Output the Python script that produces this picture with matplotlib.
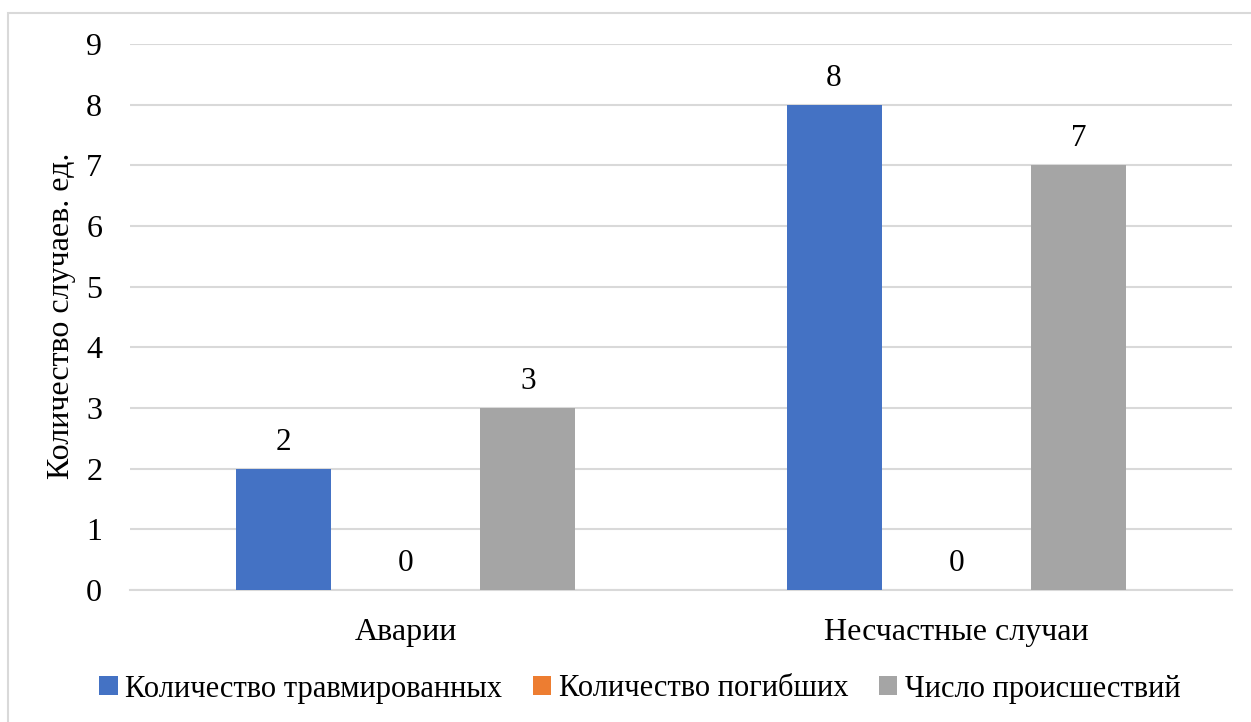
import matplotlib
matplotlib.use("Agg")
import matplotlib.pyplot as plt
from matplotlib.patches import Rectangle
import numpy as np

plt.rcParams['font.family'] = ['Liberation Serif', 'DejaVu Serif']

categories = ["Аварии", "Несчастные случаи"]
series_names = ["Количество травмированных", "Количество погибших", "Число происшествий"]
injured = [2, 8]
killed = [0, 0]
incidents = [3, 7]
series_values = [injured, killed, incidents]
colors = ["#4472C4", "#ED7D31", "#A5A5A5"]
y_ticks = list(range(0, 10))

W, H = 1251, 722
fig = plt.figure(figsize=(W / 100, H / 100), dpi=100)
fig.patch.set_facecolor("white")

# outer chart frame (left and top edges visible)
fig.add_artist(Rectangle((8 / W, -0.5), 1.5, 1.5 - 13 / H,
                         transform=fig.transFigure, fill=False,
                         edgecolor="#d9d9d9", linewidth=1.5))

ax = fig.add_axes([130 / W, 1 - 590 / H, (1232 - 130) / W, (590 - 44) / H])

x = np.arange(len(categories))
bar_w = 0.1724
offset = 0.2223
for i, (name, vals, col) in enumerate(zip(series_names, series_values, colors)):
    pos = x + (i - 1) * offset
    ax.bar(pos, vals, width=bar_w, color=col, label=name, zorder=3)
    for xb, v in zip(pos, vals):
        ax.text(xb, v + 0.2, f"{v}", ha="center", va="bottom", fontsize=22.5)

ax.set_xlim(-0.5, 1.5)
ax.set_ylim(0, 9)
ax.set_yticks(y_ticks)
ax.set_yticklabels([str(t) for t in y_ticks], fontsize=23)
ax.set_xticks(x)
ax.set_xticklabels(categories, fontsize=23)
ax.tick_params(axis="y", length=0, pad=20)
ax.tick_params(axis="x", length=0, pad=20)
ax.grid(axis="y", color="#d9d9d9", linewidth=1.5, zorder=0)
ax.set_axisbelow(True)
for s in ["top", "right", "left"]:
    ax.spines[s].set_visible(False)
ax.spines["bottom"].set_color("#d9d9d9")
ax.spines["bottom"].set_linewidth(1.5)

ax.set_ylabel("Количество случаев. ед.", fontsize=23)
ax.yaxis.set_label_coords(-54 / (1232 - 130), 0.502)

fig.legend(loc="center", bbox_to_anchor=(640 / W, 1 - 689 / H), ncol=3,
           frameon=False, fontsize=22, handlelength=0.6, handleheight=0.6,
           handletextpad=0.25, columnspacing=1.0)

fig.savefig("out.png", dpi=100)
